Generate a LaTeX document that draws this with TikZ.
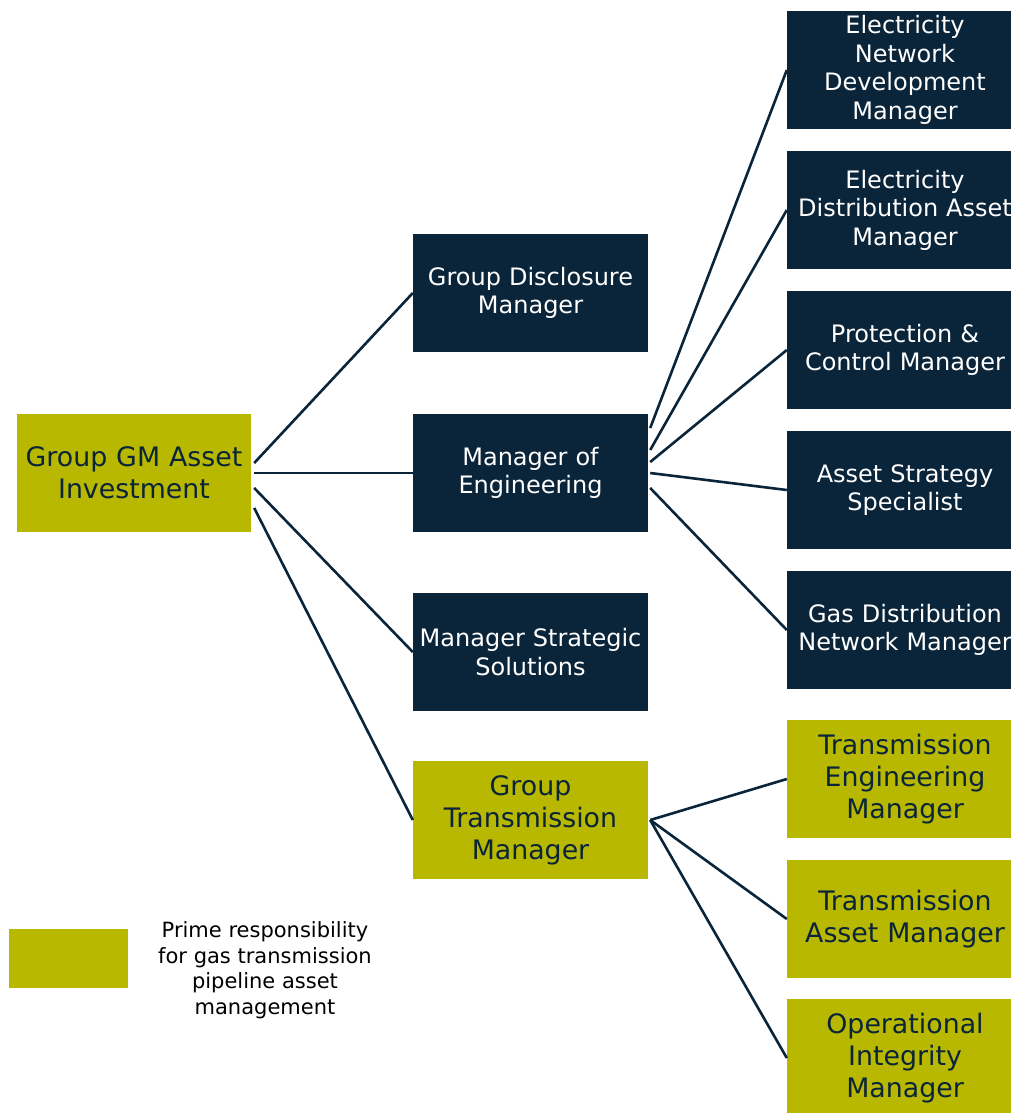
\documentclass[tikz,border=0pt]{standalone}
\usepackage{fontspec}
\setmainfont{DejaVu Sans}
\definecolor{navy}{RGB}{10,36,57}
\definecolor{olive}{RGB}{184,184,0}
\begin{document}
\begin{tikzpicture}[x=1pt,y=-1pt,
  navybox/.style={fill=navy, text=white, inner sep=0pt, minimum height=118pt, align=center, font=\fontsize{24}{28.5}\selectfont},
  olivebox/.style={fill=olive, text=navy, inner sep=0pt, minimum height=118pt, align=center, font=\fontsize{26.8}{32}\selectfont},
  midbox/.style={minimum width=235pt, text width=235pt},
  rightbox/.style={minimum width=236pt, text width=236pt},
  link/.style={draw=navy, line width=2.6pt}]
\useasboundingbox (0,0) rectangle (1011,1113);
% left and middle columns
\node[olivebox, minimum width=234pt, text width=234pt] (gm) at (134,473) {Group GM Asset\\Investment};
\node[navybox, midbox] (disclosure) at (530.5,293) {Group Disclosure\\Manager};
\node[navybox, midbox] (engineering) at (530.5,473) {Manager of\\Engineering};
\node[navybox, midbox] (strategic) at (530.5,652) {Manager Strategic\\Solutions};
\node[olivebox, midbox] (transmission) at (530.5,820) {Group\\Transmission\\Manager};
% right column
\node[navybox, rightbox] (netdev) at (905,70) {Electricity\\Network\\Development\\Manager};
\node[navybox, rightbox] (distasset) at (905,210) {Electricity\\Distribution Asset\\Manager};
\node[navybox, rightbox] (protection) at (905,350) {Protection \&\\Control Manager};
\node[navybox, rightbox] (strategy) at (905,490) {Asset Strategy\\Specialist};
\node[navybox, rightbox] (gasdist) at (905,630) {Gas Distribution\\Network Manager};
\node[olivebox, rightbox] (transeng) at (905,779) {Transmission\\Engineering\\Manager};
\node[olivebox, rightbox] (transasset) at (905,919) {Transmission\\Asset Manager};
\node[olivebox, rightbox] (integrity) at (905,1058) {Operational\\Integrity\\Manager};
% legend
\node[fill=olive, minimum width=119pt, minimum height=59pt, inner sep=0pt] (key) at (68.5,958.5) {};
\node[align=center, inner sep=0pt, font=\fontsize{21}{25.5}\selectfont] (keytext) at (265,970) {Prime responsibility\\for gas transmission\\pipeline asset\\management};
% connectors
\draw[link] ([xshift=3pt,yshift=10pt]gm.east) -- (disclosure.west);
\draw[link] ([xshift=3pt]gm.east) -- (engineering.west);
\draw[link] ([xshift=3pt,yshift=-15pt]gm.east) -- (strategic.west);
\draw[link] ([xshift=3pt,yshift=-35pt]gm.east) -- (transmission.west);
\draw[link] ([xshift=2pt,yshift=45pt]engineering.east) -- (netdev.west);
\draw[link] ([xshift=2pt,yshift=23pt]engineering.east) -- (distasset.west);
\draw[link] ([xshift=2pt,yshift=11pt]engineering.east) -- (protection.west);
\draw[link] ([xshift=2pt]engineering.east) -- (strategy.west);
\draw[link] ([xshift=2pt,yshift=-15pt]engineering.east) -- (gasdist.west);
\draw[link] ([xshift=2pt]transmission.east) -- (transeng.west);
\draw[link] ([xshift=2pt]transmission.east) -- (transasset.west);
\draw[link] ([xshift=2pt]transmission.east) -- (integrity.west);
\end{tikzpicture}
\end{document}
